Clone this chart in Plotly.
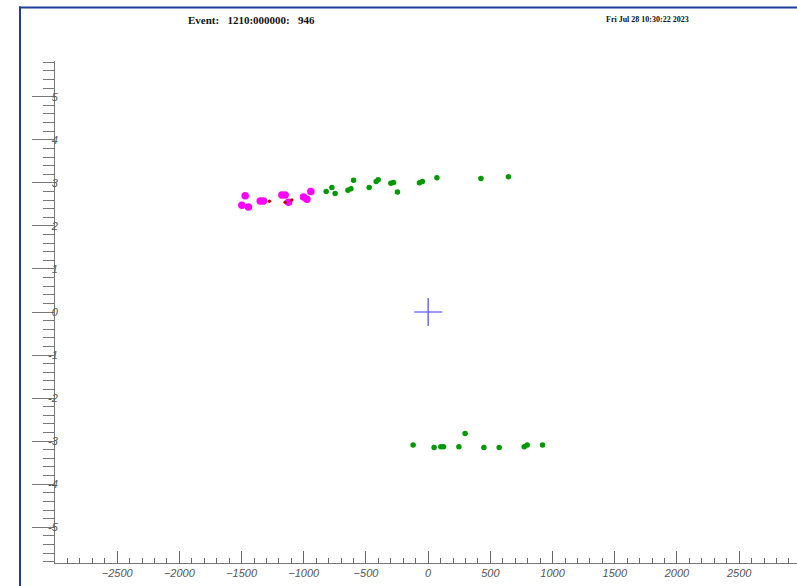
import plotly.graph_objects as go

# ---- data ----
magenta_x = [-1471, -1498, -1445, -1350, -1324, -1176, -1150, -1123, -1002, -975, -943]
magenta_y = [2.70, 2.48, 2.44, 2.58, 2.58, 2.72, 2.72, 2.55, 2.67, 2.62, 2.80]

red_x = [-1276, -1150, -1096]
red_y = [2.57, 2.55, 2.60]

green_x = [-820, -774, -748, -645, -621, -600, -474, -418, -402, -300, -279, -247,
           -70, -46, 70, 424, 645,
           -121, 48, 102, 123, 247, 297, 448, 571, 772, 796, 919]
green_y = [2.80, 2.89, 2.75, 2.83, 2.86, 3.06, 2.89, 3.03, 3.07, 2.99, 3.01, 2.79,
           3.00, 3.03, 3.12, 3.10, 3.14,
           -3.09, -3.15, -3.13, -3.13, -3.13, -2.82, -3.15, -3.15, -3.13, -3.09, -3.09]

vertex_x = [0]
vertex_y = [0]

x_tickvals = [-2500, -2000, -1500, -1000, -500, 0, 500, 1000, 1500, 2000, 2500]
y_tickvals = [-5, -4, -3, -2, -1, 0, 1, 2, 3, 4, 5]

title_text = "Event:   1210:000000:   946"
date_text = "Fri Jul 28 10:30:22 2023"

x_range = [-3000, 2965]
y_range = [-5.83, 5.83]

W, H = 797, 586
ml, mr, mt, mb = 55, 0, 60.5, 23
pw, ph = W - ml - mr, H - mt - mb


def px_to_paper_x(px):
    return (px - ml) / pw


def px_to_paper_y(py):
    return (H - mb - py) / ph


fig = go.Figure()
fig.add_trace(go.Scatter(x=green_x, y=green_y, mode="markers",
                         marker=dict(color="#009a00", size=5.5), hoverinfo="x+y"))
fig.add_trace(go.Scatter(x=magenta_x, y=magenta_y, mode="markers",
                         marker=dict(color="#ff00ff", size=7.5), hoverinfo="x+y"))
fig.add_trace(go.Scatter(x=red_x, y=red_y, mode="markers",
                         marker=dict(color="#b01010", size=3.5), hoverinfo="x+y"))
fig.add_trace(go.Scatter(x=vertex_x, y=vertex_y, mode="markers",
                         marker=dict(symbol="cross-thin", size=20,
                                     line=dict(color="rgba(70,70,255,0.75)", width=1.6)),
                         hoverinfo="x+y"))

tickfont = dict(family="Liberation Sans", size=11, color="#555555", style="italic")

fig.update_xaxes(range=x_range, showgrid=False, zeroline=False,
                 showline=True, linecolor="#777777", linewidth=1,
                 tickmode="array", tickvals=x_tickvals,
                 ticktext=[str(v).replace("-", "\u2212") for v in x_tickvals],
                 ticks="inside", ticklen=12, tickcolor="#666666", tickwidth=1,
                 minor=dict(dtick=100, tick0=0, ticks="inside", ticklen=5,
                            tickcolor="#666666", tickwidth=1, showgrid=False),
                 tickfont=tickfont)
fig.update_yaxes(range=y_range, showgrid=False, zeroline=False,
                 showline=True, linecolor="#777777", linewidth=1,
                 tickmode="array", tickvals=y_tickvals,
                 ticktext=[str(v) for v in y_tickvals],
                 ticks="outside", ticklen=22, tickcolor="#777777", tickwidth=1,
                 minor=dict(dtick=0.2, tick0=0, ticks="outside", ticklen=11,
                            tickcolor="#777777", tickwidth=1, showgrid=False),
                 tickfont=tickfont, ticklabelstandoff=-28)

frame_color = "#1f3e98"
fig.add_shape(type="line", xref="paper", yref="paper",
              x0=px_to_paper_x(19), x1=px_to_paper_x(800),
              y0=px_to_paper_y(7), y1=px_to_paper_y(7),
              line=dict(color=frame_color, width=2))
fig.add_shape(type="line", xref="paper", yref="paper",
              x0=px_to_paper_x(20), x1=px_to_paper_x(20),
              y0=px_to_paper_y(6), y1=px_to_paper_y(590),
              line=dict(color=frame_color, width=2))

fig.add_annotation(text=title_text, xref="paper", yref="paper",
                   x=px_to_paper_x(251), y=px_to_paper_y(19),
                   showarrow=False, xanchor="center", yanchor="middle",
                   font=dict(family="Liberation Serif", size=11, color="#111111", weight="bold"))
fig.add_annotation(text=date_text, xref="paper", yref="paper",
                   x=px_to_paper_x(647), y=px_to_paper_y(19),
                   showarrow=False, xanchor="center", yanchor="middle",
                   font=dict(family="Liberation Serif", size=8, color="#111111", weight="bold"))

fig.update_layout(width=W, height=H, showlegend=False,
                  margin=dict(l=ml, r=mr, t=mt, b=mb, pad=0),
                  paper_bgcolor="white", plot_bgcolor="white")

fig.write_html("out.html", config={"displayModeBar": False},
               post_script="document.body.style.margin='0';document.body.style.overflow='hidden';")
